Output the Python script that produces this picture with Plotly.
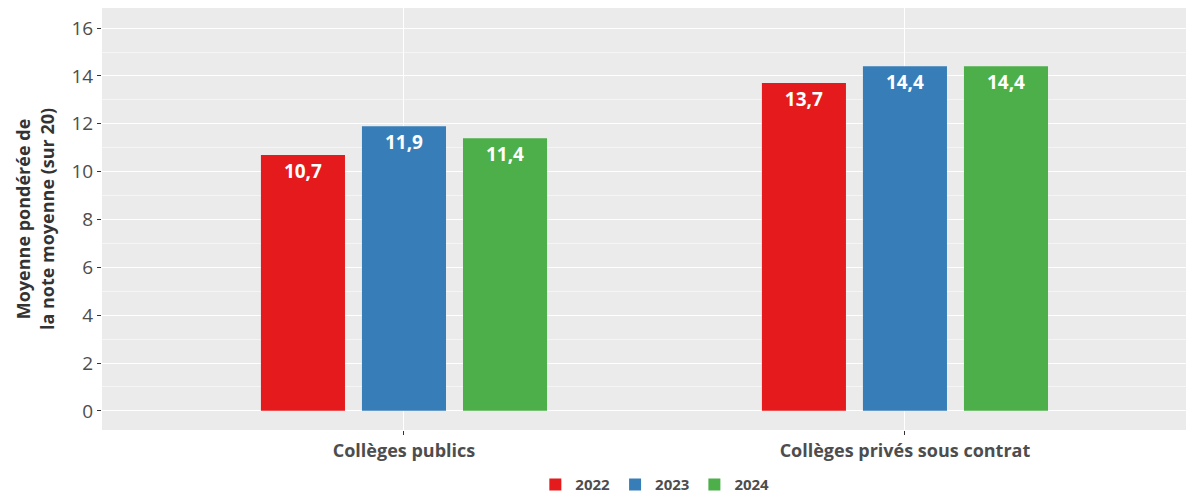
import plotly.graph_objects as go

categories = ["Collèges publics", "Collèges privés sous contrat"]
years = ["2022", "2023", "2024"]
values_2022 = [10.7, 13.7]
values_2023 = [11.9, 14.4]
values_2024 = [11.4, 14.4]
colors = ["#E41A1C", "#377EB8", "#4DAF4A"]

series = [values_2022, values_2023, values_2024]

FONT = "Open Sans"

fig = go.Figure()
for yr, vals, col in zip(years, series, colors):
    fig.add_trace(go.Bar(
        x=categories, y=vals, name=yr,
        marker=dict(color=col, line=dict(width=0)),
        text=[f"{v:.1f}".replace(".", ",") for v in vals],
        textposition="inside", insidetextanchor="end",
        textfont=dict(family=FONT, size=19, color="white", weight="bold"),
        textangle=0, constraintext="none",
    ))

fig.update_layout(
    width=1178, height=487,
    margin=dict(l=94, r=0, t=0, b=65, autoexpand=False),
    paper_bgcolor="white", plot_bgcolor="#EBEBEB",
    barmode="group", bargap=0.395, bargroupgap=0.168,
    font=dict(family=FONT, color="#4D4D4D"),
    showlegend=True,
    legend=dict(orientation="h", x=0.51, xanchor="center", y=-0.13, yanchor="middle",
                font=dict(family=FONT, size=15, color="#4D4D4D", weight="bold"),
                itemsizing="constant", traceorder="normal", tracegroupgap=0),
    xaxis=dict(range=[-0.6028, 1.561], showgrid=True, gridcolor="white", gridwidth=1,
               ticks="outside", ticklen=4, tickcolor="#333333", tickwidth=1,
               tickfont=dict(family=FONT, size=18, color="#4D4D4D", weight="bold"),
               zeroline=False, showline=False, automargin=False),
    yaxis=dict(range=[-0.8, 16.84], tickvals=[0, 2, 4, 6, 8, 10, 12, 14, 16],
               showgrid=True, gridcolor="white", gridwidth=1.1,
               minor=dict(tickvals=[1, 3, 5, 7, 9, 11, 13, 15], showgrid=True,
                          gridcolor="#F5F5F5", gridwidth=0.6, ticks=""),
               ticks="outside", ticklen=4, tickcolor="#333333", tickwidth=1,
               tickfont=dict(family=FONT, size=19, color="#4D4D4D"),
               zeroline=False, showline=False, automargin=False,
               title=dict(text="Moyenne pondérée de<br>la note moyenne (sur 20)",
                          font=dict(family=FONT, size=18, color="#333333", weight="bold"),
                          standoff=12)),
)

fig.write_html("out.html")
